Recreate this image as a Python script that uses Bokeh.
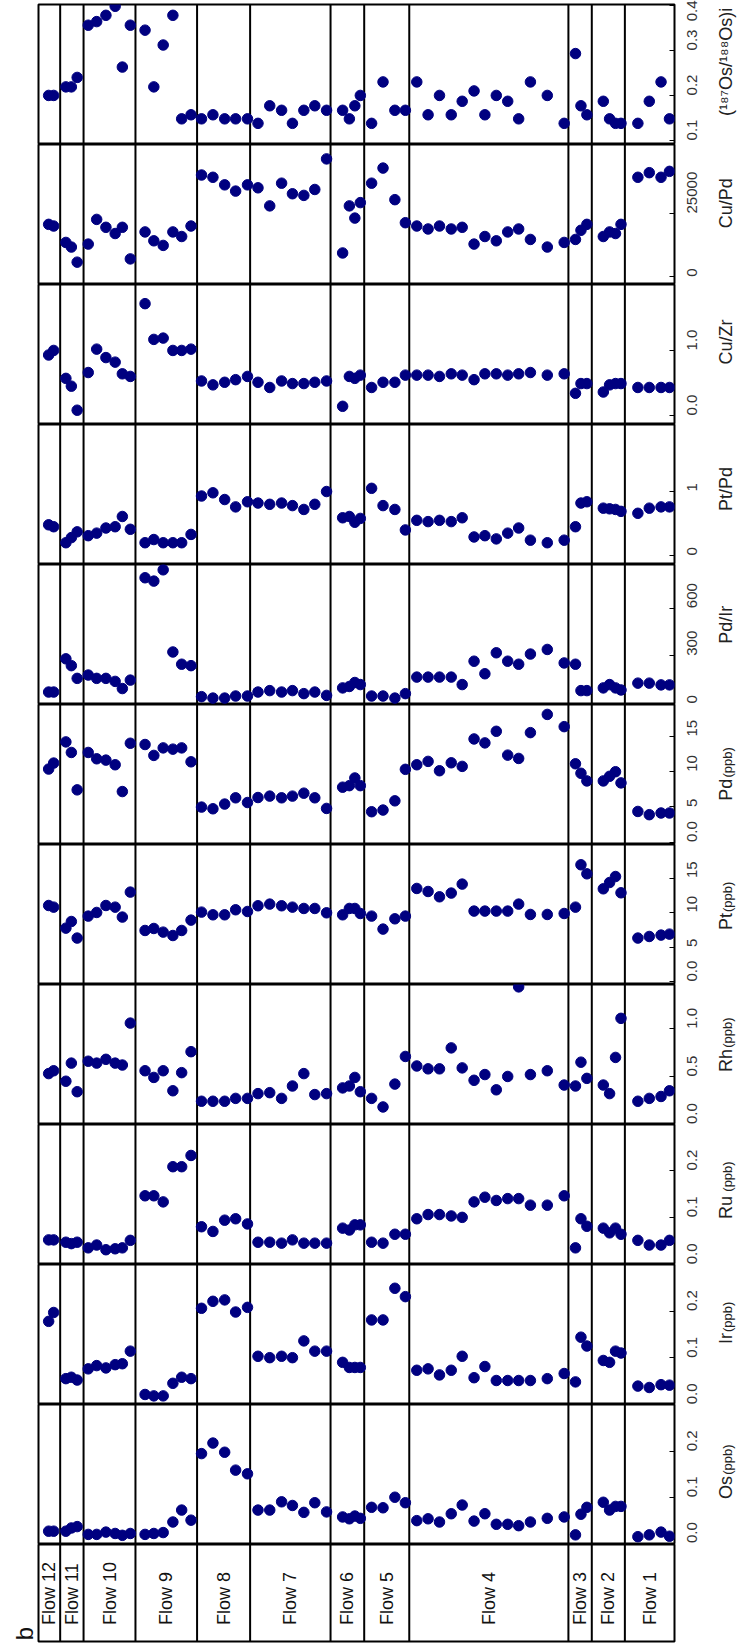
import math
from bokeh.plotting import figure
from bokeh.layouts import column, row
from bokeh.models import (Range1d, FixedTicker, Span,
                          CustomJSTickFormatter, ColumnDataSource)
from bokeh.embed import file_html
from bokeh.resources import INLINE
from bokeh.core.properties import value

# ---------------- data ----------------
flows = ["Flow 12", "Flow 11", "Flow 10", "Flow 9", "Flow 8", "Flow 7",
         "Flow 6", "Flow 5", "Flow 4", "Flow 3", "Flow 2", "Flow 1"]
flow_bounds = [0, 1.9, 3.95, 8.5, 13.9, 18.55, 25.6, 28.55, 32.5,
               46.45, 48.5, 51.4, 55.75]

sample_pos = [0.89, 1.33,
              2.40, 2.88, 3.39,
              4.36, 5.10, 5.91, 6.72, 7.35, 8.05,
              9.34, 10.11, 10.93, 11.78, 12.55, 13.37,
              14.29, 15.29, 16.32, 17.28, 18.32,
              19.24, 20.27, 21.31, 22.26, 23.26, 24.22, 25.25,
              26.66, 27.25, 27.73, 28.21,
              29.20, 30.20, 31.24, 32.16,
              33.16, 34.15, 35.15, 36.18, 37.14, 38.18, 39.13, 40.13, 41.13,
              42.09, 43.12, 44.60, 46.08,
              47.07, 47.55, 48.07,
              49.51, 50.06, 50.58, 51.06,
              52.54, 53.54, 54.57, 55.31]

os_ppb = [0.026, 0.026,
          0.026, 0.033, 0.036,
          0.019, 0.019, 0.024, 0.021, 0.017, 0.021,
          0.019, 0.021, 0.023, 0.046, 0.072, 0.050,
          0.195, 0.218, 0.198, 0.159, 0.151,
          0.072, 0.072, 0.090, 0.082, 0.067, 0.088, 0.068,
          0.057, 0.053, 0.059, 0.054,
          0.078, 0.077, 0.100, 0.088,
          0.049, 0.053, 0.046, 0.064, 0.083, 0.048, 0.064, 0.041, 0.041,
          0.038, 0.046, 0.054, 0.057,
          0.018, 0.063, 0.078,
          0.089, 0.072, 0.080, 0.080,
          0.014, 0.018, 0.024, 0.015]

ir_ppb = [0.178, 0.197,
          0.055, 0.058, 0.052,
          0.076, 0.083, 0.078, 0.085, 0.087, 0.114,
          0.021, 0.018, 0.018, 0.045, 0.058, 0.055,
          0.206, 0.221, 0.224, 0.198, 0.208,
          0.103, 0.100, 0.103, 0.100, 0.136, 0.114, 0.114,
          0.090, 0.079, 0.079, 0.079,
          0.181, 0.181, 0.249, 0.231,
          0.073, 0.076, 0.063, 0.073, 0.103, 0.057, 0.081, 0.051, 0.051,
          0.051, 0.051, 0.055, 0.066,
          0.048, 0.144, 0.125,
          0.094, 0.090, 0.114, 0.110,
          0.039, 0.036, 0.042, 0.041]

ru_ppb = [0.052, 0.052,
          0.047, 0.044, 0.047,
          0.035, 0.041, 0.031, 0.033, 0.035, 0.051,
          0.146, 0.146, 0.133, 0.208, 0.208, 0.232,
          0.080, 0.070, 0.094, 0.097, 0.086,
          0.047, 0.047, 0.045, 0.052, 0.045, 0.045, 0.045,
          0.077, 0.073, 0.084, 0.084,
          0.047, 0.045, 0.064, 0.064,
          0.097, 0.106, 0.106, 0.103, 0.100, 0.133, 0.143, 0.136, 0.140,
          0.140, 0.126, 0.126, 0.146,
          0.035, 0.097, 0.081,
          0.077, 0.067, 0.077, 0.064,
          0.051, 0.041, 0.041, 0.051]

rh_ppb = [0.53, 0.56,
          0.45, 0.64, 0.34,
          0.66, 0.64, 0.68, 0.64, 0.62, 1.06,
          0.56, 0.49, 0.56, 0.35, 0.54, 0.76,
          0.24, 0.24, 0.24, 0.27, 0.27,
          0.32, 0.33, 0.27, 0.40, 0.53, 0.31, 0.32,
          0.38, 0.40, 0.49, 0.34,
          0.27, 0.18, 0.42, 0.71,
          0.61, 0.58, 0.58, 0.80, 0.59, 0.46, 0.52, 0.36, 0.50,
          1.44, 0.52, 0.56, 0.41,
          0.40, 0.65, 0.48,
          0.41, 0.32, 0.70, 1.11,
          0.24, 0.27, 0.29, 0.35]

pt_ppb = [11.03, 10.79,
          7.75, 8.71, 6.31,
          9.49, 10.02, 11.03, 10.79, 9.35, 12.97,
          7.41, 7.70, 7.17, 6.68, 7.41, 8.91,
          10.07, 9.68, 9.68, 10.41, 10.16,
          10.99, 11.23, 10.99, 10.79, 10.60, 10.60, 9.97,
          9.68, 10.60, 10.60, 9.87,
          9.49, 7.61, 9.10, 9.49,
          13.50, 13.06, 12.29, 12.83, 14.13, 10.22, 10.22, 10.22, 10.22,
          11.23, 9.73, 9.73, 9.87,
          10.79, 16.93, 15.62,
          13.45, 14.36, 15.23, 12.87,
          6.31, 6.54, 6.74, 6.88]

pd_ppb = [10.38, 11.23,
          14.24, 12.74, 7.42,
          12.74, 11.84, 11.65, 10.99, 7.18, 14.05,
          13.87, 12.32, 13.39, 13.21, 13.39, 11.41,
          4.97, 4.73, 5.40, 6.29, 5.62,
          6.33, 6.53, 6.29, 6.53, 6.95, 6.29, 4.78,
          7.80, 8.02, 9.11, 8.02,
          4.31, 4.55, 5.86, 10.34,
          10.99, 11.47, 10.14, 11.27, 10.76, 14.66, 14.10, 15.75, 12.36,
          11.89, 15.56, 18.15, 16.41,
          11.13, 9.78, 8.69,
          8.69, 9.35, 10.00, 8.41,
          4.35, 3.89, 4.13, 4.13]

pd_ir = [72, 72,
         281, 238, 158,
         179, 158, 158, 139, 94, 147,
         791, 770, 841, 324, 247, 238,
         43, 34, 34, 47, 47,
         72, 81, 72, 81, 62, 72, 51,
         98, 107, 132, 119,
         47, 47, 34, 62,
         166, 166, 166, 166, 119, 266, 187, 319, 266,
         247, 311, 340, 255,
         247, 81, 81,
         98, 119, 98, 85,
         128, 128, 117, 117]

pt_pd = [0.48, 0.45,
         0.20, 0.28, 0.37,
         0.31, 0.35, 0.43, 0.45, 0.61, 0.41,
         0.20, 0.25, 0.20, 0.20, 0.20, 0.33,
         0.93, 0.98, 0.875, 0.76, 0.84,
         0.82, 0.80, 0.82, 0.78, 0.72, 0.80, 1.00,
         0.59, 0.61, 0.52, 0.58,
         1.05, 0.78, 0.72, 0.40,
         0.55, 0.53, 0.55, 0.53, 0.59, 0.29, 0.31, 0.26, 0.35,
         0.43, 0.24, 0.20, 0.24,
         0.45, 0.82, 0.84,
         0.74, 0.73, 0.72, 0.69,
         0.66, 0.74, 0.76, 0.76]

cu_zr = [0.93, 1.00,
         0.57, 0.45, 0.08,
         0.66, 1.02, 0.89, 0.82, 0.64, 0.60,
         1.72, 1.17, 1.19, 1.00, 1.00, 1.02,
         0.53, 0.47, 0.51, 0.55, 0.60,
         0.51, 0.43, 0.53, 0.49, 0.49, 0.51, 0.53,
         0.14, 0.60, 0.57, 0.62,
         0.43, 0.51, 0.51, 0.62,
         0.62, 0.62, 0.60, 0.64, 0.62, 0.55, 0.64, 0.64, 0.62,
         0.64, 0.66, 0.62, 0.64,
         0.34, 0.49, 0.49,
         0.36, 0.47, 0.49, 0.49,
         0.43, 0.43, 0.43, 0.43]

cu_pd = [20700, 20040,
         13550, 11720, 5740,
         12890, 22660, 19530, 17070, 19530, 7030,
         17700, 14190, 12370, 17700, 15890, 20040,
         40230, 39330, 36330, 33860, 36330,
         35160, 28010, 36990, 32810, 32160, 34500, 46600,
         9380, 28010, 23180, 29300,
         36990, 42970, 30470, 21350,
         20040, 18870, 20040, 18870, 19530, 12890, 15890, 14190, 17700,
         18870, 14730, 11720, 13550,
         14730, 18360, 20700,
         15890, 17700, 17070, 20700,
         39330, 41150, 39330, 41670]

os_ratio = [0.200, 0.200,
            0.219, 0.219, 0.240,
            0.356, 0.364, 0.378, 0.398, 0.263, 0.356,
            0.345, 0.219, 0.312, 0.378, 0.148, 0.157,
            0.148, 0.157, 0.148, 0.148, 0.148,
            0.138, 0.177, 0.167, 0.138, 0.167, 0.177, 0.167,
            0.167, 0.148, 0.177, 0.200,
            0.138, 0.230, 0.167, 0.167,
            0.230, 0.157, 0.200, 0.157, 0.187, 0.210, 0.157, 0.200, 0.187,
            0.148, 0.230, 0.200, 0.138,
            0.293, 0.177, 0.157,
            0.187, 0.148, 0.138, 0.138,
            0.138, 0.187, 0.230, 0.148]

# ---------------- styling / layout ----------------
FONT = "Liberation Sans"
NAVY = "#000080"
FRAME_W = 636
PANEL_H = 140
STRIP_H = 97
STRIP_BOTTOM = 2
TOP = 4
LEFT_W = 37          # width of the left margin figure (holds "b")
PAD_L = 1            # left border of each panel, room for its outline
RIGHT = 42
TITLE_W = 744 - LEFT_W - PAD_L - FRAME_W - RIGHT
TITLE_MID = 9        # centre line of the (rotated) axis titles
UNIT_MID = 11        # centre line of the smaller "(ppb)" parts
FMT1 = "return tick.toFixed(1);"
FMT0 = "return tick.toFixed(0);"
FMTZ = "return (tick == 0) ? '0.0' : tick.toFixed(0);"

src = ColumnDataSource(dict(x=sample_pos, os=os_ppb, ir=ir_ppb, ru=ru_ppb,
                            rh=rh_ppb, pt=pt_ppb, pd=pd_ppb, pd_ir=pd_ir,
                            pt_pd=pt_pd, cu_zr=cu_zr, cu_pd=cu_pd,
                            os_ratio=os_ratio))

# key, title, unit, y-min, y-max, ticks, formatter, title position (fraction)
panels = [
    ("os_ratio", "(\u00b9\u2078\u2077Os/\u00b9\u2078\u2078Os)i", None, 0.091, 0.402, [0.1, 0.2, 0.3, 0.4], FMT1, 0.59),
    ("cu_pd", "Cu/Pd", None, -3100, 52300, [0, 25000], FMT0, 0.58),
    ("cu_zr", "Cu/Zr", None, -0.14, 2.015, [0, 1], FMT1, 0.59),
    ("pt_pd", "Pt/Pd", None, -0.14, 2.047, [0, 1], FMT0, 0.54),
    ("pd_ir", "Pd/Ir", None, -6.4, 874.5, [0, 300, 600], FMT0, 0.57),
    ("pd", "Pd", "(ppb)", -0.35, 19.56, [0, 5, 10, 15], FMTZ, 0.47),
    ("pt", "Pt", "(ppb)", -0.42, 19.87, [0, 5, 10, 15], FMTZ, 0.51),
    ("rh", "Rh", "(ppb)", -0.004, 1.465, [0, 0.5, 1.0], FMT1, 0.54),
    ("ru", "Ru", "(ppb)", -0.0005, 0.298, [0, 0.1, 0.2], FMT1, 0.49),
    ("ir", "Ir", "(ppb)", -0.0005, 0.300, [0, 0.1, 0.2], FMT1, 0.51),
    ("os", "Os", "(ppb)", -0.003, 0.302, [0, 0.1, 0.2], FMT1, 0.49),
]

x_range = Range1d(flow_bounds[0], flow_bounds[-1])
n_pan = len(panels)
full_h = n_pan * PANEL_H + STRIP_H + STRIP_BOTTOM
side_y = Range1d(-(STRIP_H + STRIP_BOTTOM) / PANEL_H, n_pan)


def base_fig(**kw):
    f = figure(toolbar_location=None, output_backend="svg",
               background_fill_color="white", border_fill_color="white",
               **kw)
    f.grid.visible = False
    return f


figs = []
for i, (key, title, unit, lo, hi, ticks, fmt, frac) in enumerate(panels):
    p = base_fig(frame_width=FRAME_W, frame_height=PANEL_H, x_range=x_range,
                 y_range=Range1d(lo, hi), x_axis_location=None,
                 y_axis_location="right", min_border_left=PAD_L,
                 min_border_right=RIGHT, min_border_top=TOP if i == 0 else 0,
                 min_border_bottom=0, outline_line_color="black",
                 outline_line_width=2)
    ax = p.yaxis[0]
    ax.ticker = FixedTicker(ticks=ticks)
    ax.formatter = CustomJSTickFormatter(code=fmt)
    ax.axis_line_color = None
    ax.major_tick_in = 5
    ax.major_tick_out = 0
    ax.major_tick_line_color = "black"
    ax.minor_tick_line_color = None
    ax.major_label_orientation = math.pi / 2
    ax.major_label_standoff = 18
    ax.major_label_text_font = FONT
    ax.major_label_text_font_size = "15px"
    ax.major_label_text_color = "#333333"

    for b in flow_bounds[1:-1]:
        p.add_layout(Span(location=b, dimension="height", line_color="black",
                          line_width=2, level="underlay"))
    p.scatter("x", key, source=src, size=10.5, color=NAVY)
    figs.append(p)

# flow-label strip below the panels
q = base_fig(frame_width=FRAME_W, frame_height=STRIP_H, x_range=x_range,
             y_range=Range1d(0, 1), x_axis_location=None,
             y_axis_location=None, min_border_left=PAD_L,
             min_border_right=RIGHT, min_border_top=0,
             min_border_bottom=STRIP_BOTTOM, outline_line_color="black",
             outline_line_width=2)
for b in flow_bounds[1:-1]:
    q.add_layout(Span(location=b, dimension="height", line_color="black",
                      line_width=2, level="underlay"))
centers = [(a + b) / 2 for a, b in zip(flow_bounds[:-1], flow_bounds[1:])]
label_base = 0.17
q.text(x=centers, y=[label_base] * len(centers), text=flows, angle=math.pi / 2,
       text_align="left", text_baseline="middle", text_font=value(FONT),
       text_font_size="18px", text_color="#111111")

# left margin, holding the panel letter "b"
lf = base_fig(frame_width=LEFT_W, frame_height=full_h,
              x_range=Range1d(0, LEFT_W), y_range=side_y,
              x_axis_location=None, y_axis_location=None, min_border_left=0,
              min_border_right=0, min_border_top=TOP, min_border_bottom=0,
              outline_line_color=None)
b_mid = -(STRIP_H - 8) / PANEL_H
lf.text(x=[LEFT_W - 13], y=[b_mid], text=["b"],
        angle=math.pi / 2, text_align="center", text_baseline="middle",
        text_font=value(FONT), text_font_size="24px", text_color="#111111")

# axis titles, in a strip to the right of the panels
t = base_fig(frame_width=TITLE_W, frame_height=full_h,
             x_range=Range1d(0, TITLE_W), y_range=side_y,
             x_axis_location=None, y_axis_location=None, min_border_left=0,
             min_border_right=0, min_border_top=TOP, min_border_bottom=0,
             outline_line_color=None)
single_y, single_t = [], []
main_y, main_t, unit_y, unit_t = [], [], [], []
for i, (key, title, unit, lo, hi, ticks, fmt, frac) in enumerate(panels):
    yy = (n_pan - 1 - i) + frac
    if unit is None:
        single_y.append(yy)
        single_t.append(title)
    else:
        main_y.append(yy)
        main_t.append(title)
        unit_y.append(yy + (0.03 if key == "ru" else 0.008))
        unit_t.append(unit)
t.text(x=[TITLE_MID] * len(single_y), y=single_y, text=single_t,
       angle=math.pi / 2, text_align="center", text_baseline="middle",
       text_font=value(FONT), text_font_size="18px", text_color="#222222")
t.text(x=[TITLE_MID] * len(main_y), y=main_y, text=main_t,
       angle=math.pi / 2, text_align="right", text_baseline="middle",
       text_font=value(FONT), text_font_size="18px", text_color="#222222")
t.text(x=[UNIT_MID] * len(unit_y), y=unit_y, text=unit_t,
       angle=math.pi / 2, text_align="left", text_baseline="middle",
       text_font=value(FONT), text_font_size="13px", text_color="#222222")

mid_col = column(*figs, q, spacing=0)
layout = row(lf, mid_col, t, spacing=0)
open("out.html", "w").write(file_html(layout, INLINE))
